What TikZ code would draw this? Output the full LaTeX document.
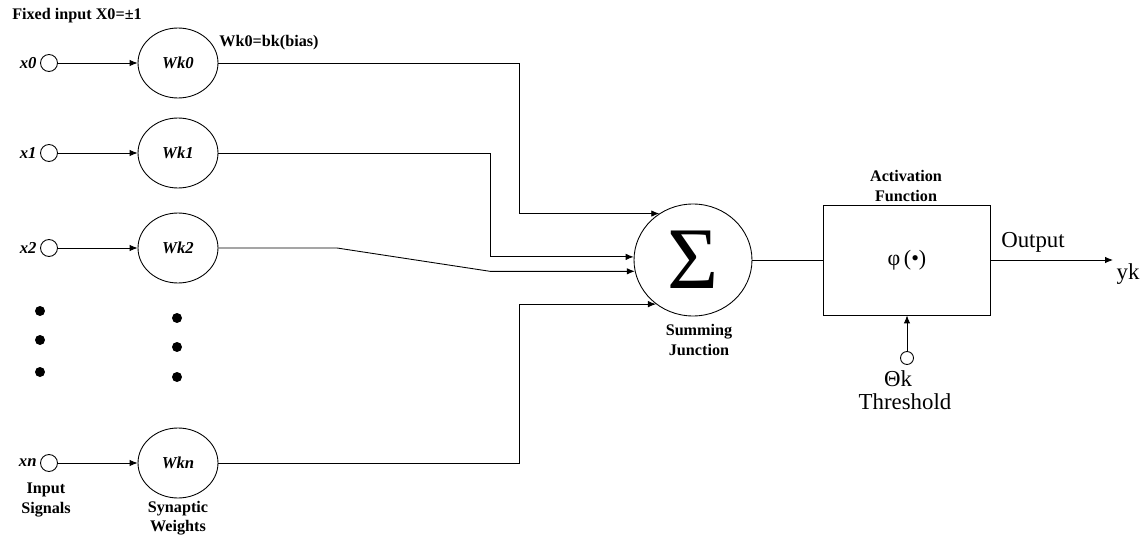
\documentclass[tikz,border=0pt]{standalone}
\usepackage{fontspec}
\setmainfont{Liberation Serif}
\usetikzlibrary{arrows.meta,positioning,shapes.geometric,calc}

\begin{document}
\begin{tikzpicture}[x=0.02cm, y=-0.02cm, line width=0.5pt,
  every node/.style={inner sep=0pt},
  lbl/.style={font=\fontsize{9.2}{11}\selectfont\bfseries, align=center},
  big/.style={font=\fontsize{13}{15}\selectfont, align=center},
  scr/.style={font=\fontsize{9.5}{10}\selectfont\bfseries\itshape},
  inp/.style={circle, draw, minimum size=0.34cm},
  wgt/.style={ellipse, draw, minimum width=1.6cm, minimum height=1.4cm, font=\fontsize{9.5}{10}\selectfont\bfseries\itshape},
  dot/.style={circle, fill, minimum size=0.2cm},
  arr/.style={-{Latex[length=1.6mm,width=1.3mm]}}]
  \useasboundingbox (0,0) rectangle (1147,537);
  % inputs and weights
  \node[lbl] (fixed) at (77,16) {Fixed input X0=±1};
  \node[lbl] (bias) at (269,43) {Wk0=bk(bias)};
  \foreach \i/\y in {0/63,1/153,2/248,n/463} {
    \node[inp] (x\i) at (49,\y) {};
    \node[scr, anchor=east] (lx\i) at (37,\y) {x\i};
    \node[wgt] (w\i) at (178,\y) {Wk\i};
    \draw[arr] (x\i) -- (w\i);
  }
  \foreach \y [count=\k] in {311,340,372} \node[dot] (dl\k) at (40,\y) {};
  \foreach \y [count=\k] in {318,347,377} \node[dot] (dr\k) at (177,\y) {};
  \node[lbl] (inlbl) at (46,500) {Input\\Signals};
  \node[lbl] (synlbl) at (178,518) {Synaptic\\Weights};
  % summing junction
  \node[ellipse, draw, minimum width=2.36cm, minimum height=2.24cm,
        font=\fontsize{50}{50}\selectfont] (sum) at (693,260) {Σ};
  \node[lbl] (sumlbl) at (699,340) {Summing\\Junction};
  \coordinate (j0) at (519,0);
  \coordinate (j1) at (490,0);
  \coordinate (kink) at (337,248);
  \draw[arr] (w0.east) -| (j0 |- sum.126) -- (sum.126);
  \draw[arr] (w1.east) -| (j1 |- sum.177) -- (sum.177);
  \draw[arr] (w2.east) -- (kink) -- (j1 |- sum.191) -- (sum.191);
  \draw[arr] (wn.east) -| (j0 |- sum.230) -- (sum.230);
  % activation
  \node[draw, minimum width=3.34cm, minimum height=2.2cm,
        font=\fontsize{12.5}{14}\selectfont] (act) at (907,260) {φ\,(•)};
  \node[lbl] (actlbl) at (906,186) {Activation\\Function};
  \draw (sum.east) -- (act.west);
  \coordinate (yend) at (1113,260);
  \draw[arr] (act.east) -- (yend);
  \node[big] (outlbl) at (1033,242) {Output};
  \node[big] (yk) at (1128,274) {yk};
  % threshold
  \node[circle, draw, minimum size=0.26cm] (th) at (907,358) {};
  \draw[arr] (th) -- (th |- act.south);
  \node[big] (theta) at (898,379) {Θk};
  \node[big] (thlbl) at (905,402) {Threshold};
\end{tikzpicture}
\end{document}
